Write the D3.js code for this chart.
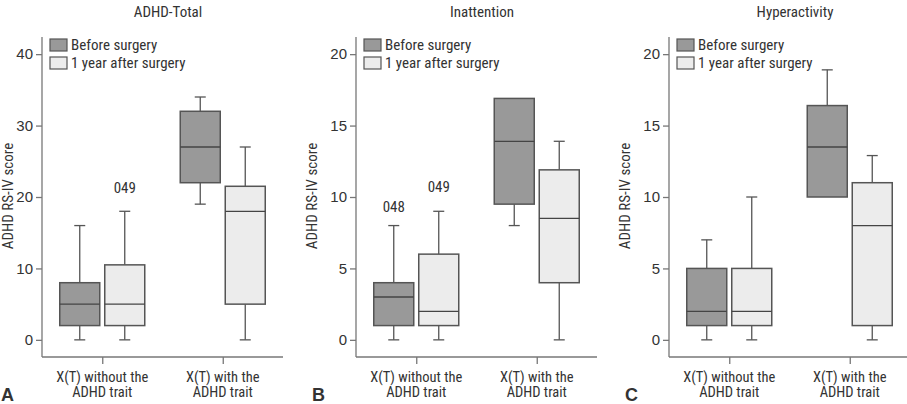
<!DOCTYPE html>
<html>
<head>
<meta charset="utf-8">
<style>
    body { margin: 0; background: #fff; }
    svg { display: block; }
    text { font-family: 'Liberation Sans Narrow', 'Arial Narrow', 'Roboto Condensed', sans-serif; fill: #333; }
</style>
</head>
<body>
<svg width="907" height="404"></svg>
<script src="https://d3js.org/d3.v7.min.js"></script>
<script>
    // categories and series
    let groups = ["X(T) without the|ADHD trait", "X(T) with the|ADHD trait"]
    let series = ["Before surgery", "1 year after surgery"]

    // box stats: [min, q1, median, q3, max], one row per group, one entry per series
    let totalStats = [
        [[0, 2, 5, 8, 16], [0, 2, 5, 10.5, 18]],
        [[19, 22, 27, 32, 34], [0, 5, 18, 21.5, 27]]
    ]
    let inattStats = [
        [[0, 1, 3, 4, 8], [0, 1, 2, 6, 9]],
        [[8, 9.5, 13.9, 16.9, 16.9], [0, 4, 8.5, 11.9, 13.9]]
    ]
    let hyperStats = [
        [[0, 1, 2, 5, 7], [0, 1, 2, 5, 10]],
        [[10, 10, 13.5, 16.4, 18.9], [0, 1, 8, 11, 12.9]]
    ]

    // outlier case labels: [group, series, value, label]
    let totalOutliers = [[0, 1, 21.3, "049"]]
    let inattOutliers = [[0, 0, 9.3, "048"], [0, 1, 10.7, "049"]]
    let hyperOutliers = []

    let totalTicks = [0, 10, 20, 30, 40]
    let subTicks = [0, 5, 10, 15, 20]

    let panels = [
        { title: "ADHD-Total", letter: "A", left: 42, stats: totalStats, outliers: totalOutliers, ticks: totalTicks, domain: [-2.4, 42.4], yTitleX: 8 },
        { title: "Inattention", letter: "B", left: 356, stats: inattStats, outliers: inattOutliers, ticks: subTicks, domain: [-1.2, 21.2], yTitleX: 312 },
        { title: "Hyperactivity", letter: "C", left: 669, stats: hyperStats, outliers: hyperOutliers, ticks: subTicks, domain: [-1.2, 21.2], yTitleX: 625 }
    ]

    let fills = ["#999999", "#ececec"]
    let axisColor = "#777"
    let boxStroke = "#555"

    let svg = d3.select("svg")

    panels.forEach(function (p) {
        let g = svg.append("g")

        let y = d3.scaleLinear().domain(p.domain).range([357, 37])
        let x = d3.scalePoint().domain(groups).range([p.left, p.left + 241]).padding(0.5)
        let sub = d3.scaleBand().domain(series).range([-42.5, 42.5]).paddingInner(0.111)

        // title
        g.append("text")
            .attr("x", p.left + 126)
            .attr("y", 17)
            .attr("text-anchor", "middle")
            .style("font-size", "15px")
            .text(p.title)

        // y axis
        let yAxis = d3.axisLeft(y).tickValues(p.ticks).tickSize(6).tickPadding(3)
        let ya = g.append("g")
            .attr("transform", "translate(" + p.left + ",0)")
            .call(yAxis)
        ya.select(".domain").attr("d", "M0," + y.range()[0] + "V" + y.range()[1])
        ya.selectAll("line, path").attr("stroke", axisColor).attr("stroke-width", 1.3)
        ya.selectAll("text").style("font-size", "15px").attr("fill", "#333")
            .style("font-family", "'Liberation Sans Narrow', 'Arial Narrow', sans-serif")

        // y title
        g.append("text")
            .attr("transform", "translate(" + p.yTitleX + ",196) rotate(-90)")
            .attr("text-anchor", "middle")
            .attr("dy", "0.35em")
            .style("font-size", "15px")
            .text("ADHD RS-IV score")

        // x axis
        let xAxis = d3.axisBottom(x).tickSize(7).tickFormat("")
        let xa = g.append("g")
            .attr("transform", "translate(0,357)")
            .call(xAxis)
        xa.select(".domain").attr("d", "M" + p.left + ",0H" + (p.left + 241))
        xa.selectAll("line, path").attr("stroke", axisColor).attr("stroke-width", 1.3)

        groups.forEach(function (grp) {
            let lines = grp.split("|")
            lines.forEach(function (ln, i) {
                g.append("text")
                    .attr("x", x(grp))
                    .attr("y", 381.5 + i * 15.5)
                    .attr("text-anchor", "middle")
                    .style("font-size", "14.5px")
                    .text(ln)
            })
        })

        // panel letter
        g.append("text")
            .attr("x", Math.max(1, p.left - 44))
            .attr("y", 401)
            .style("font-size", "18px")
            .style("font-weight", "bold")
            .style("font-family", "'Liberation Sans', Arial, sans-serif")
            .attr("fill", "#222")
            .text(p.letter)

        // boxes
        groups.forEach(function (grp, gi) {
            series.forEach(function (s, si) {
                let st = p.stats[gi][si]
                let x0 = x(grp) + sub(s)
                let bw = sub.bandwidth()
                let cx = x0 + bw / 2
                let bg = g.append("g")

                // whiskers
                bg.append("line")
                    .attr("x1", cx).attr("x2", cx)
                    .attr("y1", y(st[0])).attr("y2", y(st[1]))
                    .attr("stroke", boxStroke).attr("stroke-width", 1.3)
                bg.append("line")
                    .attr("x1", cx).attr("x2", cx)
                    .attr("y1", y(st[3])).attr("y2", y(st[4]))
                    .attr("stroke", boxStroke).attr("stroke-width", 1.3)
                if (st[0] < st[1]) {
                    bg.append("line")
                        .attr("x1", cx - 5.5).attr("x2", cx + 5.5)
                        .attr("y1", y(st[0])).attr("y2", y(st[0]))
                        .attr("stroke", boxStroke).attr("stroke-width", 1.3)
                }
                if (st[4] > st[3]) {
                    bg.append("line")
                        .attr("x1", cx - 5.5).attr("x2", cx + 5.5)
                        .attr("y1", y(st[4])).attr("y2", y(st[4]))
                        .attr("stroke", boxStroke).attr("stroke-width", 1.3)
                }

                bg.append("rect")
                    .attr("x", x0)
                    .attr("y", y(st[3]))
                    .attr("width", bw)
                    .attr("height", y(st[1]) - y(st[3]))
                    .attr("fill", fills[si])
                    .attr("stroke", boxStroke)
                    .attr("stroke-width", 1.5)

                bg.append("line")
                    .attr("x1", x0).attr("x2", x0 + bw)
                    .attr("y1", y(st[2])).attr("y2", y(st[2]))
                    .attr("stroke", "#444").attr("stroke-width", 1.3)
            })
        })

        // outlier labels
        p.outliers.forEach(function (o) {
            g.append("text")
                .attr("x", x(groups[o[0]]) + sub(series[o[1]]) + sub.bandwidth() / 2)
                .attr("y", y(o[2]))
                .attr("dy", "0.35em")
                .attr("text-anchor", "middle")
                .style("font-size", "15px")
                .text(o[3])
        })

        // legend
        let lg = g.append("g").attr("transform", "translate(" + (p.left + 8) + ",39)")
        series.forEach(function (s, i) {
            lg.append("rect")
                .attr("x", 0)
                .attr("y", i * 18)
                .attr("width", 17)
                .attr("height", 12)
                .attr("fill", fills[i])
                .attr("stroke", boxStroke)
                .attr("stroke-width", 1.2)
            lg.append("text")
                .attr("x", 21)
                .attr("y", i * 18 + 6)
                .attr("dy", "0.35em")
                .style("font-size", "15px")
                .text(s)
        })
    })
</script>
</body>
</html>
